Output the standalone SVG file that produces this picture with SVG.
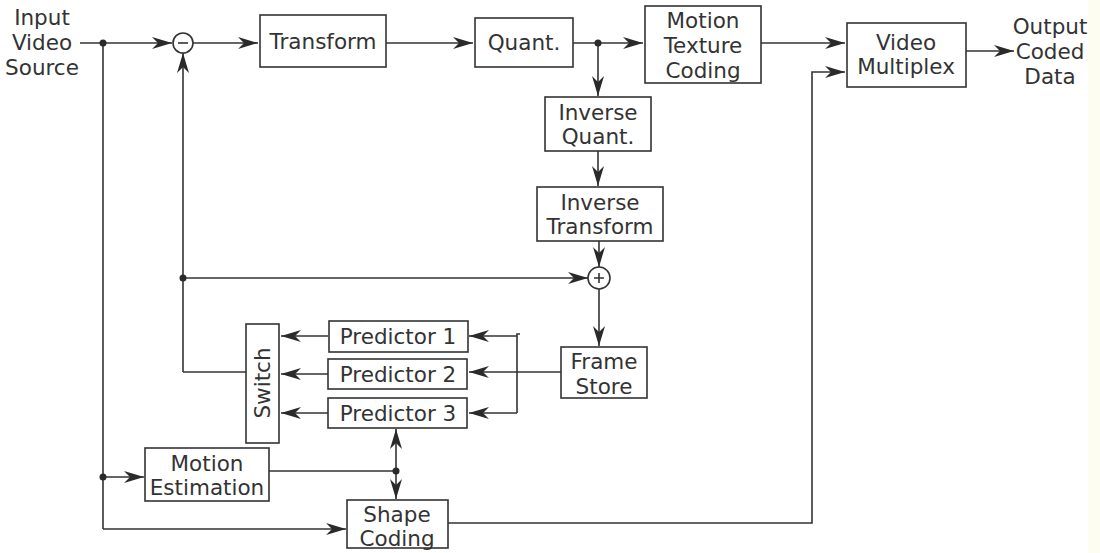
<svg xmlns="http://www.w3.org/2000/svg" width="1100" height="553" viewBox="0 0 1100 553">
<defs>
<marker id="ah" viewBox="0 0 20 12" markerWidth="20" markerHeight="12" refX="20" refY="6" orient="auto" markerUnits="userSpaceOnUse">
<path d="M0,0 L20,6 L0,12 L6,6 z" fill="#2a2a2a"/>
</marker>
</defs>
<style>
.b{fill:#fff;stroke:#333;stroke-width:1.6}
.t{font-family:"DejaVu Sans",sans-serif;font-size:21.5px;fill:#333;text-anchor:middle}
.c{fill:none;stroke:#333;stroke-width:1.6}
.a{marker-end:url(#ah)}
.d{fill:#2a2a2a}
</style>
<rect x="0" y="0" width="1100" height="553" fill="#fff"/>
<rect x="1088" y="0" width="12" height="553" fill="#fdfdf2"/>
<g id="connectors">
<path class="c a" d="M80,43 H172"/>
<path class="c a" d="M193,43 H258"/>
<path class="c a" d="M386,43 H473"/>
<path class="c a" d="M573,43 H643"/>
<path class="c a" d="M598,43 V96"/>
<path class="c a" d="M598,151 V186"/>
<path class="c a" d="M599,241 V267"/>
<path class="c a" d="M183,278 H588"/>
<path class="c a" d="M599,289 V346"/>
<path class="c a" d="M761,43 H845"/>
<path class="c a" d="M448,523 H812 V72 H845"/>
<path class="c a" d="M966,51 H1014"/>
<path class="c a" d="M183,372 V53"/>
<path class="c" d="M183,372 H246"/>
<path class="c a" d="M328,336 H281"/>
<path class="c a" d="M328,374 H281"/>
<path class="c a" d="M328,413 H281"/>
<path class="c a" d="M561,372 H469"/>
<path class="c" d="M520,334 H517 V413"/>
<path class="c a" d="M517,336 H469"/>
<path class="c a" d="M517,413 H469"/>
<path class="c" d="M103,43 V529"/>
<path class="c a" d="M103,477 H144"/>
<path class="c a" d="M103,529 H346"/>
<path class="c" d="M269,471 H396"/>
<path class="c a" d="M396,471 V429"/>
<path class="c a" d="M396,471 V499"/>
<circle class="d" cx="103" cy="43" r="3.5"/>
<circle class="d" cx="598" cy="43" r="3.5"/>
<circle class="d" cx="183" cy="278" r="3.5"/>
<circle class="d" cx="103" cy="477" r="3.5"/>
<circle class="d" cx="396" cy="471" r="3.5"/>
</g>
<g id="input">
<text class="t" x="42" y="25">Input</text>
<text class="t" x="42" y="50">Video</text>
<text class="t" x="42" y="75">Source</text>
</g>
<g id="minus">
<circle class="b" cx="183" cy="43" r="10"/>
<path class="c" d="M178,43 H188" stroke-width="1.2"/>
</g>
<g id="transform">
<rect class="b" x="260" y="15" width="126" height="52"/>
<text class="t" x="323" y="49">Transform</text>
</g>
<g id="quant">
<rect class="b" x="475" y="18" width="98" height="49"/>
<text class="t" x="524" y="50">Quant.</text>
</g>
<g id="mtc">
<rect class="b" x="645" y="6" width="116" height="77"/>
<text class="t" x="703" y="28">Motion</text>
<text class="t" x="703" y="53">Texture</text>
<text class="t" x="703" y="78">Coding</text>
</g>
<g id="vmux">
<rect class="b" x="847" y="23" width="119" height="64"/>
<text class="t" x="906" y="50">Video</text>
<text class="t" x="906" y="74">Multiplex</text>
</g>
<g id="output">
<text class="t" x="1050" y="34">Output</text>
<text class="t" x="1050" y="59">Coded</text>
<text class="t" x="1050" y="84">Data</text>
</g>
<g id="iquant">
<rect class="b" x="545" y="97" width="106" height="54"/>
<text class="t" x="598" y="120">Inverse</text>
<text class="t" x="598" y="144">Quant.</text>
</g>
<g id="itransform">
<rect class="b" x="537" y="187" width="126" height="54"/>
<text class="t" x="600" y="210">Inverse</text>
<text class="t" x="600" y="234">Transform</text>
</g>
<g id="plus">
<circle class="b" cx="599" cy="278" r="11"/>
<path class="c" d="M594,278 H604 M599,273 V283" stroke-width="1"/>
</g>
<g id="framestore">
<rect class="b" x="561" y="347" width="86" height="51"/>
<text class="t" x="604" y="369">Frame</text>
<text class="t" x="604" y="394">Store</text>
</g>
<g id="switch">
<rect class="b" x="246" y="324" width="33" height="119"/>
<text class="t" transform="translate(270,383) rotate(-90)" x="0" y="0">Switch</text>
</g>
<g id="pred1">
<rect class="b" x="329" y="321" width="139" height="31"/>
<text class="t" x="398" y="344">Predictor 1</text>
</g>
<g id="pred2">
<rect class="b" x="328" y="359" width="139" height="30"/>
<text class="t" x="398" y="382">Predictor 2</text>
</g>
<g id="pred3">
<rect class="b" x="328" y="398" width="139" height="30"/>
<text class="t" x="398" y="421">Predictor 3</text>
</g>
<g id="me">
<rect class="b" x="145" y="448" width="124" height="53"/>
<text class="t" x="207" y="471">Motion</text>
<text class="t" x="207" y="495">Estimation</text>
</g>
<g id="shape">
<rect class="b" x="347" y="500" width="101" height="48"/>
<text class="t" x="397" y="522">Shape</text>
<text class="t" x="397" y="546">Coding</text>
</g>
</svg>
